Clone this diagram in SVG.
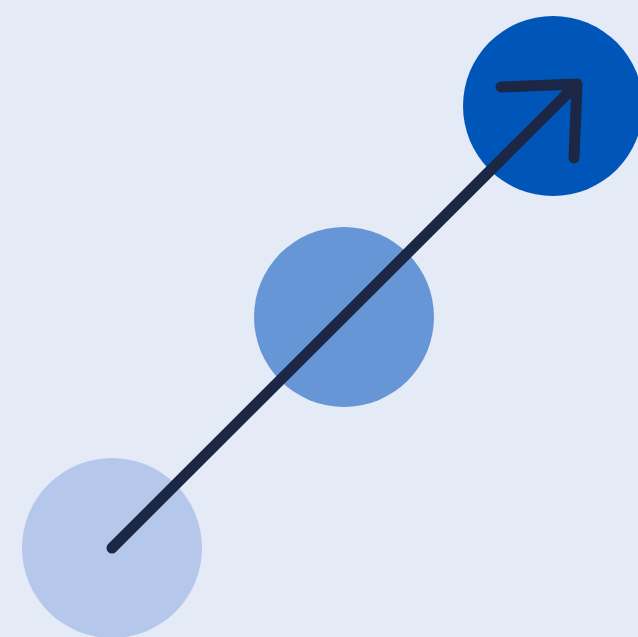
<svg xmlns="http://www.w3.org/2000/svg" width="638" height="637" viewBox="0 0 638 637">
<style>
.ln{fill:none;stroke:#1c2645;stroke-width:11;stroke-linecap:round;stroke-linejoin:round}
</style>
<rect width="638" height="637" fill="#e4ebf7"/>
<g id="node-low"><circle cx="112" cy="548" r="90" fill="#b5c8eb"/></g>
<g id="node-mid"><circle cx="344" cy="317" r="90" fill="#6796d6"/></g>
<g id="node-high"><circle cx="553" cy="106" r="90" fill="#0056b8"/></g>
<g id="connectors">
<path class="ln" d="M112 548 L576 85"/>
<path class="ln" d="M501 87 L577 84 L574 158"/>
</g>
</svg>
